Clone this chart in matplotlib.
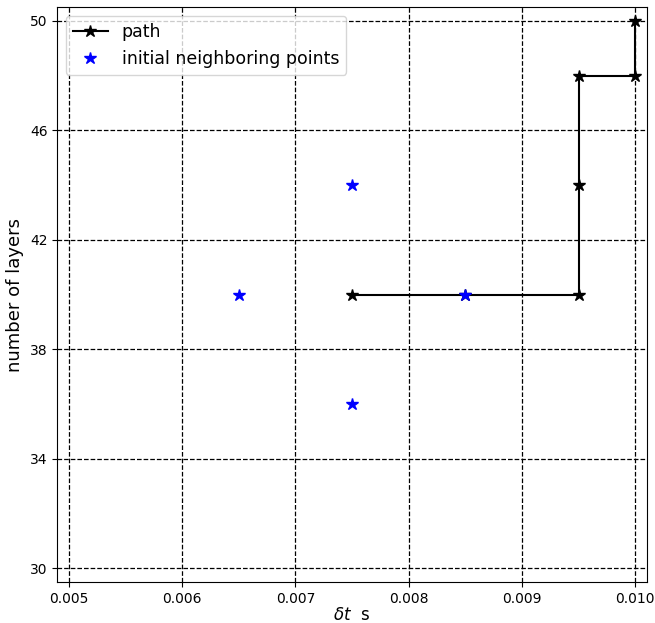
import matplotlib.pyplot as plt

# path taken by the search
path_dt = [0.0075, 0.0085, 0.0095, 0.0095, 0.0095, 0.0100, 0.0100]
path_layers = [40, 40, 40, 44, 48, 48, 50]

# initial neighboring points
init_dt = [0.0065, 0.0075, 0.0075, 0.0085]
init_layers = [40, 44, 36, 40]

x_ticks = [0.005, 0.006, 0.007, 0.008, 0.009, 0.010]
y_ticks = [30, 34, 38, 42, 46, 50]

fig = plt.figure(figsize=(6.55, 6.23), dpi=100)
ax = fig.add_axes([0.0875, 0.0658, 0.8998, 0.9225])

ax.plot(path_dt, path_layers, "k*-", markersize=9, label="path")
ax.plot(init_dt, init_layers, "b*", markersize=9, linestyle="none", label="initial neighboring points")

ax.set_xlim(0.0049, 0.0101)
ax.set_ylim(29.5, 50.5)
ax.set_xticks(x_ticks)
ax.set_xticklabels(["%.3f" % v for v in x_ticks])
ax.set_yticks(y_ticks)
ax.tick_params(labelsize=10)
ax.grid(True, color="k", linestyle="--", linewidth=0.9)
ax.set_xlabel(r"$\delta t$  s", fontsize=12, labelpad=0)
ax.set_ylabel("number of layers", fontsize=13)
ax.legend(loc="upper left", fontsize=12.5)

fig.savefig("out.png", dpi=100)
